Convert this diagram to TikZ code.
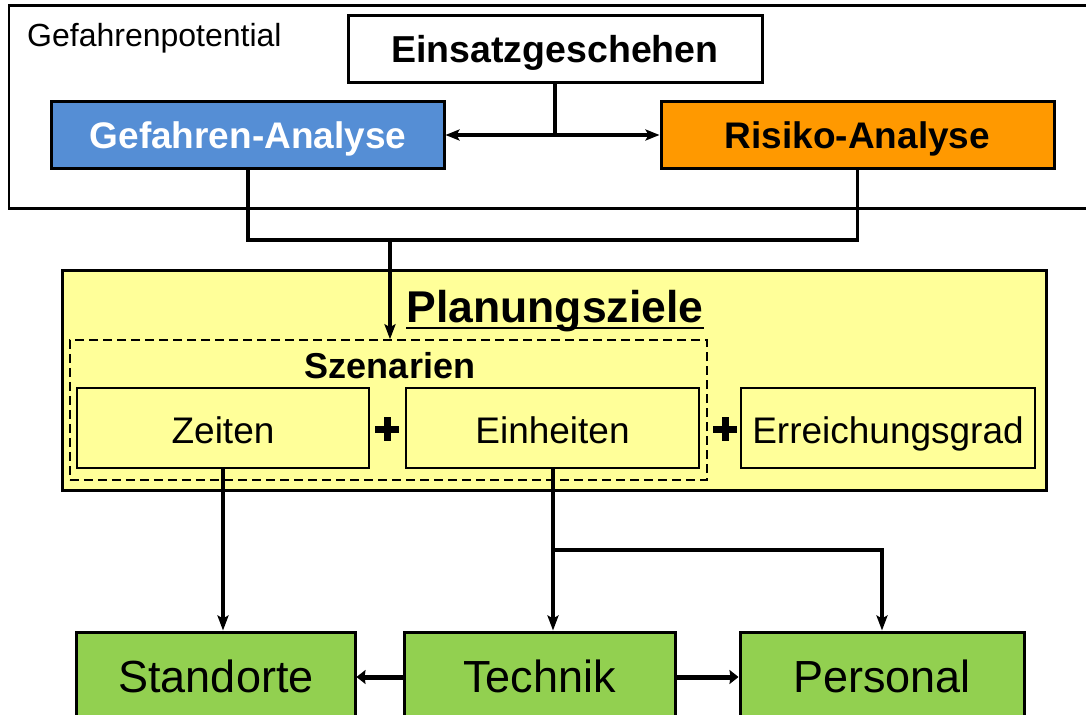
\documentclass[tikz,border=0pt]{standalone}
\usepackage{fontspec}
\setmainfont{Liberation Sans}
\usetikzlibrary{arrows.meta}
\definecolor{gblue}{HTML}{558ED5}
\definecolor{gorange}{HTML}{FF9900}
\definecolor{gyellow}{HTML}{FFFF99}
\definecolor{ggreen}{HTML}{92D050}
\tikzset{
  box/.style={draw=black, line width=3bp, inner sep=0pt, align=center, text depth=0pt},
  subbox/.style={draw=black, line width=1.4bp, fill=gyellow, inner sep=0pt, text height=30bp, text depth=0pt, font=\fontsize{37bp}{40bp}\selectfont},
  botbox/.style={draw=black, line width=3bp, fill=ggreen, inner sep=0pt, text height=30bp, text depth=0pt, font=\fontsize{45bp}{48bp}\selectfont},
  conn/.style={draw=black, line width=3.6bp},
  tip/.style={-{Stealth[length=15bp,width=11bp,inset=3bp]}},
  tips/.style={{Stealth[length=14bp,width=11bp,inset=3bp]}-{Stealth[length=14bp,width=11bp,inset=3bp]}},
  fattip/.style={-{Stealth[length=9bp,width=14bp,inset=1bp]}},
  plusline/.style={draw=black, line width=7bp},
  plusnode/.style={inner sep=0pt, minimum size=23bp},
}
\begin{document}
\begin{tikzpicture}[x=1bp,y=-1bp]
\clip (0,0) rectangle (1086,715);
\fill[white] (0,0) rectangle (1086,715);
% outer frame
\node[draw=black, line width=2.2bp, minimum width=1100bp, minimum height=203bp, inner sep=0pt] (frame) at (559,107) {};
\node[font=\fontsize{32bp}{36bp}\selectfont, anchor=west, inner sep=0pt, text height=22bp, text depth=0pt] (gpot) at (27,36) {Gefahrenpotential};
% top boxes
\node[box, fill=white, minimum width=414bp, minimum height=67bp, text height=27bp, font=\bfseries\fontsize{37.5bp}{40bp}\selectfont] (ein) at (555,49.5) {Einsatzgeschehen};
\node[box, fill=gblue, text=white, minimum width=392bp, minimum height=66bp, text height=28bp, font=\bfseries\fontsize{37bp}{40bp}\selectfont] (gef) at (248,135) {Gefahren-Analyse};
\node[box, fill=gorange, minimum width=393bp, minimum height=66bp, text height=28bp, font=\bfseries\fontsize{37bp}{40bp}\selectfont] (ris) at (857.5,135) {Risiko-Analyse};
% Planungsziele
\node[box, fill=gyellow, minimum width=983bp, minimum height=219bp] (plan) at (554.5,380.5) {};
\node[font=\bfseries\fontsize{44.5bp}{48bp}\selectfont, inner sep=0pt, anchor=base] (title) at (555,322) {Planungsziele};
\draw[line width=2.2bp] ([yshift=-6bp]title.base west) -- ([yshift=-6bp]title.base east);
\node[draw=black, dash pattern=on 9bp off 5bp, line width=1.5bp, minimum width=637bp, minimum height=140bp, inner sep=0pt] (scen) at (388.5,410) {};
\node[font=\bfseries\fontsize{36bp}{40bp}\selectfont, inner sep=0pt, text height=26bp, text depth=0pt] (sztxt) at (390,365) {Szenarien};
\node[subbox, minimum width=292bp, minimum height=80bp] (zeit) at (223,428) {Zeiten};
\node[subbox, minimum width=293bp, minimum height=80bp] (einh) at (552.5,428) {Einheiten};
\node[subbox, minimum width=294bp, minimum height=80bp] (erg) at (888,428) {Erreichungsgrad};
\node[plusnode] (plus1) at (387,429) {};
\node[plusnode] (plus2) at (725,429) {};
\draw[plusline] (plus1.west) -- (plus1.east) (plus1.north) -- (plus1.south);
\draw[plusline] (plus2.west) -- (plus2.east) (plus2.north) -- (plus2.south);
% bottom boxes
\node[botbox, minimum width=278bp, minimum height=90bp] (stand) at (216,677) {Standorte};
\node[botbox, minimum width=271bp, minimum height=90bp] (tech) at (539.5,677) {Technik};
\node[botbox, minimum width=284bp, minimum height=90bp] (pers) at (882,677) {Personal};
% connectors
\coordinate (jy) at (0,240);
\coordinate (j) at (390,240);
\coordinate (b) at (553,550);
\draw[conn] (ein.south) -- (ein.south |- gef.east);
\draw[conn, tips] (gef.east) -- (ris.west);
\draw[conn] (gef.south) -- (gef.south |- jy) -- (ris.south |- jy) -- (ris.south);
\draw[conn, tip] (j) -- (j |- scen.north);
\draw[conn, tip] (zeit.south) -- (zeit.south |- stand.north);
\draw[conn, tip] (b |- einh.south) -- (b |- tech.north);
\draw[conn, tip] (b) -- (pers.north |- b) -- (pers.north);
\draw[line width=5bp, fattip] (tech.west) -- (stand.east);
\draw[line width=5bp, fattip] (tech.east) -- (pers.west);
\end{tikzpicture}
\end{document}
